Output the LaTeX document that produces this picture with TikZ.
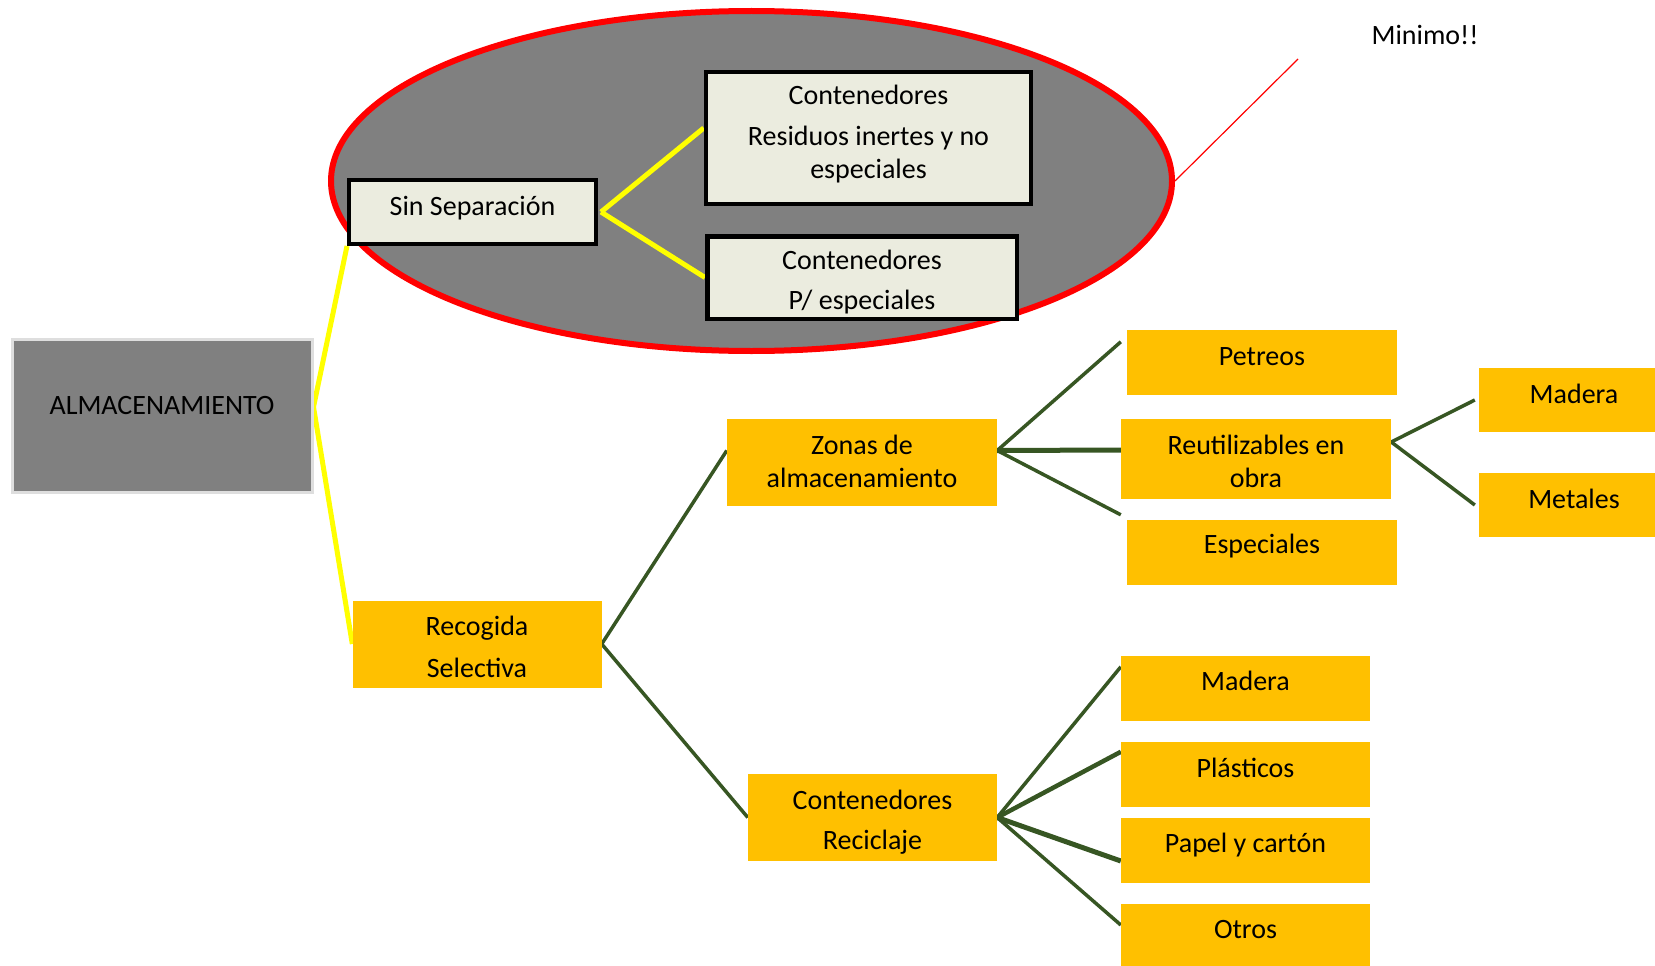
\documentclass[tikz,border=0pt]{standalone}
\usepackage{fontspec}
\setmainfont{Carlito}
\usetikzlibrary{shapes.geometric}
\definecolor{boxorange}{HTML}{FFC000}
\definecolor{boxbeige}{HTML}{EBECDF}
\definecolor{midgray}{HTML}{808080}
\definecolor{palegray}{HTML}{DEDEDE}
\definecolor{leaf}{HTML}{375623}
\definecolor{hiyellow}{HTML}{FFFF00}
\definecolor{alert}{HTML}{FF0000}
\pgfdeclarelayer{back}
\pgfdeclarelayer{mid}
\pgfsetlayers{back,mid,main}
\begin{document}
\begin{tikzpicture}[x=1pt,y=-1pt,
  lbl/.style={anchor=base, inner sep=0pt, font=\fontsize{28}{33}\selectfont, text=black},
  obox/.style={rectangle, fill=boxorange, inner sep=0pt},
  bbox/.style={rectangle, fill=boxbeige, draw=black, line width=4.5pt, inner sep=0pt},
  gbox/.style={rectangle, fill=midgray, draw=palegray, line width=3pt, inner sep=0pt},
  yline/.style={draw=hiyellow, line width=5pt},
  gline/.style={draw=leaf, line width=3.5pt},
  gthick/.style={draw=leaf, line width=5pt},
]
\useasboundingbox (0,0) rectangle (1655,966);

% the highlighted zone behind the unsorted branch
\begin{pgfonlayer}{back}
  \node[ellipse, fill=midgray, draw=alert, line width=6pt, inner sep=0pt,
        minimum width=841pt, minimum height=340pt] (zone) at (751.5,181) {};
\end{pgfonlayer}

% boxes
\node[gbox, minimum width=300pt, minimum height=153pt] (alm) at (162,416) {};
\node[bbox, line width=4pt, minimum width=247pt, minimum height=64pt] (sin) at (472.5,212) {};
\node[bbox, minimum width=325pt, minimum height=131.5pt] (c1) at (868.5,138) {};
\node[bbox, minimum width=309.5pt, minimum height=82.5pt] (c2) at (862,277.5) {};

\node[obox, minimum width=249pt, minimum height=87pt] (rec) at (477,644) {};
\node[obox, minimum width=270pt, minimum height=87pt] (zon) at (862,462.5) {};
\node[obox, minimum width=249pt, minimum height=87pt] (rcy) at (872.5,817.5) {};
\node[obox, minimum width=270pt, minimum height=65pt] (pet) at (1262,362.5) {};
\node[obox, minimum width=270pt, minimum height=80pt] (reu) at (1256,459) {};
\node[obox, minimum width=270pt, minimum height=65pt] (esp) at (1262,552.5) {};
\node[obox, minimum width=190pt, minimum height=64pt] (md1) at (1574,400) {};
\node[obox, minimum width=190pt, minimum height=64pt] (met) at (1574,505) {};
\node[obox, minimum width=249pt, minimum height=65pt] (md2) at (1245.5,688.5) {};
\node[obox, minimum width=249pt, minimum height=65pt] (pla) at (1245.5,774.5) {};
\node[obox, minimum width=249pt, minimum height=65pt] (pap) at (1245.5,850.5) {};
\node[obox, minimum width=249pt, minimum height=65pt] (otr) at (1245.5,936.5) {};

% labels
\node[lbl] (t-alm) at (162,414) {ALMACENAMIENTO};
\node[lbl] (t-sin) at (472.5,215) {Sin Separación};
\node[lbl] (t-c1a) at (868.5,104) {Contenedores};
\node[lbl] (t-c1b) at (868.5,145) {Residuos inertes y no};
\node[lbl] (t-c1c) at (868.5,178) {especiales};
\node[lbl] (t-c2a) at (862,269) {Contenedores};
\node[lbl] (t-c2b) at (862,309) {P/ especiales};
\node[lbl] (t-min) at (1425,45) {Minimo!!};
\node[lbl] (t-reca) at (477,635) {Recogida};
\node[lbl] (t-recb) at (477,677) {Selectiva};
\node[lbl] (t-zona) at (862,454) {Zonas de};
\node[lbl] (t-zonb) at (862,487) {almacenamiento};
\node[lbl] (t-rcya) at (872.5,809) {Contenedores};
\node[lbl] (t-rcyb) at (872.5,849) {Reciclaje};
\node[lbl] (t-pet) at (1262,365) {Petreos};
\node[lbl] (t-reua) at (1256,454) {Reutilizables en};
\node[lbl] (t-reub) at (1256,487) {obra};
\node[lbl] (t-esp) at (1262,553) {Especiales};
\node[lbl] (t-md1) at (1574,403) {Madera};
\node[lbl] (t-met) at (1574,508) {Metales};
\node[lbl] (t-md2) at (1245.5,690) {Madera};
\node[lbl] (t-pla) at (1245.5,777) {Plásticos};
\node[lbl] (t-pap) at (1245.5,852) {Papel y cartón};
\node[lbl] (t-otr) at (1245.5,938) {Otros};

\coordinate (pointer) at (1298,59);

% connectors
\begin{pgfonlayer}{mid}
  \draw[draw=alert, line width=1.2pt] (pointer) -- (zone.east);

  \draw[yline] ([yshift=9pt]alm.east) -- (sin.south west);
  \draw[yline] ([yshift=9pt]alm.east) -- (rec.west);
  \draw[yline] ([xshift=3pt]sin.east) -- ([yshift=10pt]c1.west);
  \draw[yline] ([xshift=3pt]sin.east) -- (c2.west);

  \draw[gline] (rec.east) -- ([yshift=12pt]zon.west);
  \draw[gline] (rec.east) -- (rcy.west);

  \draw[gline] ([yshift=12pt]zon.east) -- ([xshift=-6pt,yshift=-12pt]pet.north west);
  \draw[gthick] ([yshift=12pt]zon.east) -- ([yshift=9pt]reu.west);
  \draw[gline] ([yshift=12pt]zon.east) -- ([xshift=-6pt,yshift=5pt]esp.north west);

  \draw[gline] ([yshift=17pt]reu.east) -- ([xshift=-4pt]md1.west);
  \draw[gline] ([yshift=17pt]reu.east) -- ([xshift=-4pt]met.west);

  \draw[gline] (rcy.east) -- ([yshift=-11pt]md2.north west);
  \draw[gthick, line width=4.5pt] (rcy.east) -- ([yshift=-10pt]pla.north west);
  \draw[gthick] (rcy.east) -- ([yshift=-10.5pt]pap.west);
  \draw[gline] (rcy.east) -- ([yshift=11.5pt]otr.west);
\end{pgfonlayer}
\end{tikzpicture}
\end{document}
